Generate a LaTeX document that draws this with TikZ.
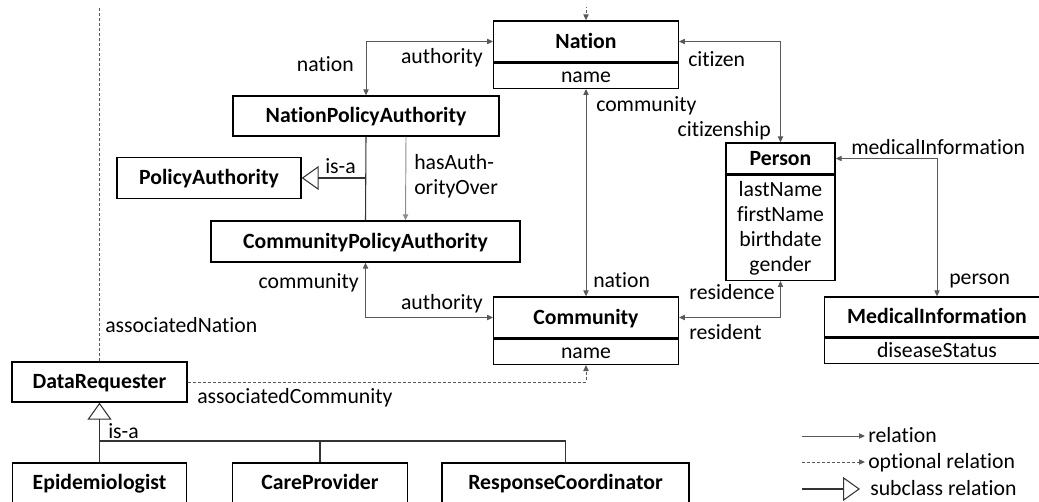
\documentclass[tikz,border=0pt]{standalone}
\usepackage{fontspec}
\setmainfont{Carlito}[Ligatures={NoCommon}]
\usetikzlibrary{arrows.meta}

\tikzset{
  hv/.style={to path={-| (\tikztotarget)}},
  vh/.style={to path={|- (\tikztotarget)}},
  isa/.style={-{Triangle[open,length=12.75pt,width=18pt]}},
  opt/.style={dash pattern=on 2.25pt off 1.5pt},
}

\begin{document}
\fontsize{16.3}{18.75}\selectfont
\begin{tikzpicture}[x=0.75pt,y=-0.75pt]
\useasboundingbox (0,0) rectangle (1039,502);
\begin{scope}
\clip (0,0) rectangle (1039,502);

% class titles
\begin{scope}[every node/.style={rectangle,draw,line width=1pt,inner sep=0pt,
              font=\bfseries,text height=0.65em,text depth=0.05em,minimum height=30.75pt}]
    \node[minimum width=138.4pt] (Nation) at (586,41.5) {Nation};
    \node[minimum width=199.5pt,minimum height=30pt] (NPA) at (366,116) {NationPolicyAuthority};
    \node[minimum width=138pt] (PA) at (209,178) {PolicyAuthority};
    \node[minimum width=231.75pt] (CPA) at (365.5,241.5) {CommunityPolicyAuthority};
    \node[minimum width=138.4pt] (Community) at (586,317.5) {Community};
    \node[minimum width=81.75pt,minimum height=23.25pt] (Person) at (780.5,158.5) {Person};
    \node[minimum width=168.75pt,minimum height=30pt] (MedInfo) at (937,317) {MedicalInformation};
    \node[minimum width=131.25pt,minimum height=30pt] (DataReq) at (99.5,382) {DataRequester};
    \node[minimum width=130.5pt,minimum height=30pt] (Epi) at (99.5,483) {Epidemiologist};
    \node[minimum width=131.25pt,minimum height=30pt] (Care) at (320,483) {CareProvider};
    \node[minimum width=185.25pt,minimum height=30pt] (Resp) at (565.5,483) {ResponseCoordinator};
\end{scope}

% attributes
\begin{scope}[every node/.style={rectangle,draw,line width=1pt,inner sep=0pt,anchor=north,
              text height=0.65em,text depth=0.05em,minimum height=18.75pt}]
    \node[minimum width=138.4pt] (NationAttr) at (Nation.south) {name};
    \node[minimum width=138.4pt] (CommunityAttr) at (Community.south) {name};
    \node[minimum width=168.75pt] (MedInfoAttr) at (MedInfo.south) {diseaseStatus};
    \node[minimum width=81.75pt,minimum height=78.75pt,align=center,text height=,text depth=]
        (PersonAttr) at (Person.south) {lastName\\firstName\\birthdate\\gender};
\end{scope}

% relations
\begin{scope}[>={Triangle[length=4.5pt,width=4pt]},
              every edge/.style={draw=black!65,line width=0.7pt}]
    \path [<->] (NPA.north) edge[vh] (Nation.west);
    \path [<->] (Nation.east) edge[hv] (Person.north);
    \path [<->] (Person.east) edge[hv] (MedInfo.north);
    \path [<->] (NationAttr.south) edge (Community.north);
    \path [<->] (PersonAttr.south) edge[vh] (Community.east);
    \path [<->] (CPA.south) edge[vh] (Community.west);
    \path [->] ([xshift=30pt]NPA.south) edge[draw=black!45] ([xshift=30pt]CPA.north);
    \path [->] (DataReq.east) edge[hv,opt] (CommunityAttr.south);
    \begin{scope}
    \clip (0,8) rectangle (1039,502);
    \path [->] (DataReq.north) edge[opt,to path={-- ++(0,-380) -| (\tikztotarget)}] (Nation.north);
    \end{scope}
\end{scope}

% subclasses
\coordinate (IsA) at (366,178);
\coordinate (Bus) at (99.5,441);
\begin{scope}[every edge/.style={draw=black!80,line width=0.8pt}]
    \path [-] (NPA.south) edge (CPA.north);
    \path [isa] (IsA) edge (PA.east);
    \path [isa] (Bus) edge (DataReq.south);
    \path [-] (Bus) edge (Epi.north);
    \path [-] (Bus) edge[hv] (Care.north);
    \path [-] (Bus) edge[hv] (Resp.north);
\end{scope}

% role names
\begin{scope}[every node/.style={inner sep=0pt,text height=0.65em,text depth=0.05em}]
    \node[anchor=east] (nationLbl) at (354,65) {nation};
    \node[anchor=east] (authorityLbl) at (483,57) {authority};
    \node[anchor=west] (citizenLbl) at (688,60) {citizen};
    \node[anchor=west] (communityLbl) at (596,105) {community};
    \node[anchor=east] (citizenshipLbl) at (771,130) {citizenship};
    \node[anchor=west] (medInfoLbl) at (851,148) {medicalInformation};
    \node[anchor=west] (isaLbl) at (325,167) {is-a};
    \node[anchor=west,align=left,text height=,text depth=] (hasAuthLbl) at (414,176) {hasAuth-\\orityOver};
    \node[anchor=east] (cpaCommunityLbl) at (359,282) {community};
    \node[anchor=east] (cpaAuthorityLbl) at (483,303) {authority};
    \node[anchor=west] (nationLbl2) at (593,281) {nation};
    \node[anchor=east] (residenceLbl) at (775,293) {residence};
    \node[anchor=west] (residentLbl) at (689,333) {resident};
    \node[anchor=west] (personLbl) at (949,278) {person};
    \node[anchor=west] (assocNationLbl) at (105,326) {associatedNation};
    \node[anchor=west] (assocCommunityLbl) at (197,397) {associatedCommunity};
    \node[anchor=west] (isaLbl2) at (108,432) {is-a};
\end{scope}

% legend
\begin{scope}[every node/.style={inner sep=0pt,anchor=west,text height=0.65em,text depth=0.05em}]
    \node (LegRel) at (868,436) {relation};
    \node (LegOpt) at (868,462) {optional relation};
    \node (LegGen) at (870,489) {subclass relation};
\end{scope}
\coordinate (LegRelStart) at (802,436);
\coordinate (LegOptStart) at (802,462);
\coordinate (LegGenStart) at (802,489);
\begin{scope}[>={Triangle[length=4.5pt,width=4pt]},
              every edge/.style={draw=black!65,line width=0.7pt}]
    \path [->,shorten >=2.25pt] (LegRelStart) edge (LegRel.west);
    \path [->,shorten >=2.25pt] (LegOptStart) edge[opt] (LegOpt.west);
    \path [isa,shorten >=7.5pt] (LegGenStart) edge[draw=black!80,line width=0.8pt] (LegGen.west);
\end{scope}

\end{scope}
\end{tikzpicture}
\end{document}
